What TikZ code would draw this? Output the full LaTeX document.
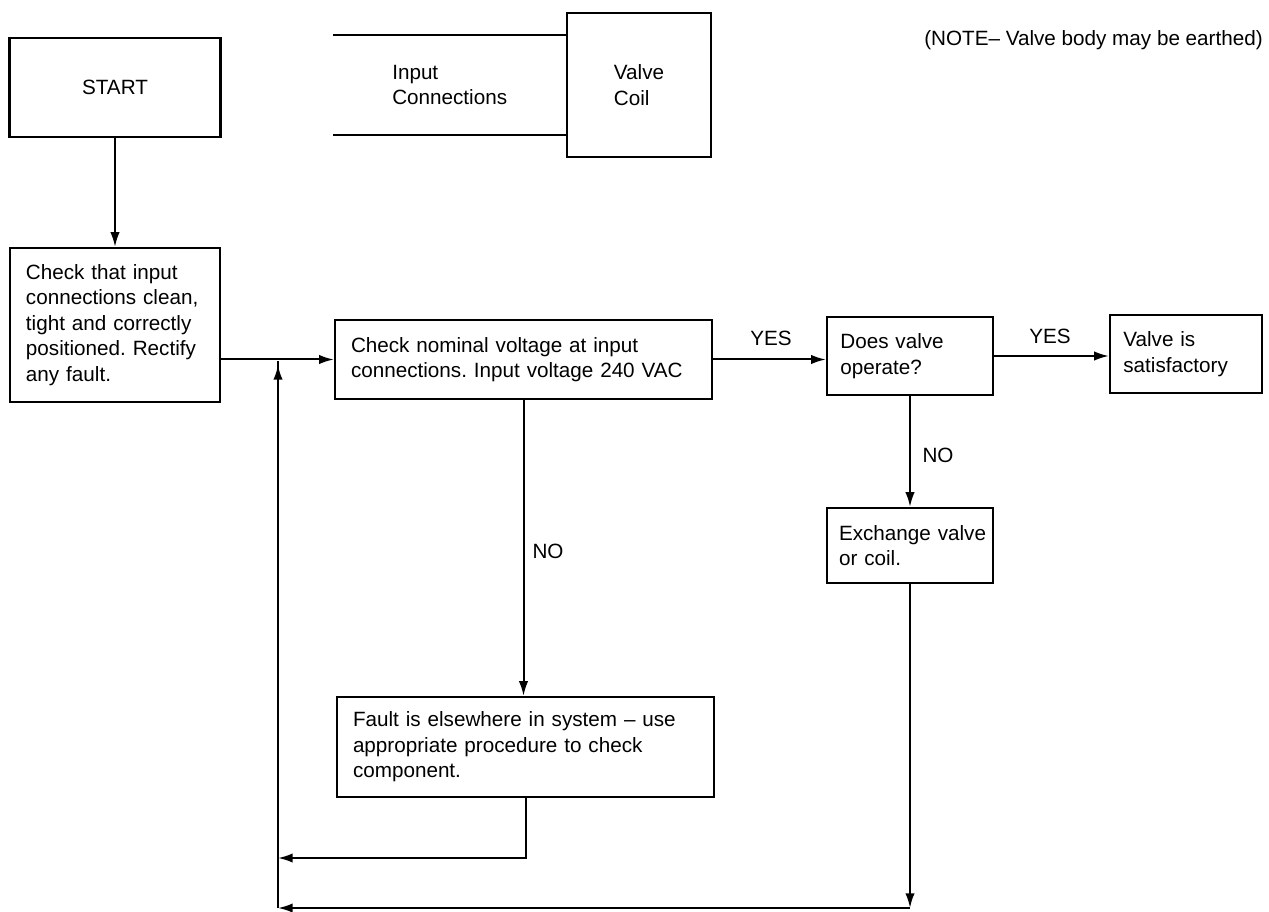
\documentclass[tikz,border=0pt]{standalone}
\usepackage{fontspec}
\setmainfont{Liberation Sans}
\usetikzlibrary{arrows.meta}
\tikzset{
  box/.style={draw,line width=1.7pt,align=left,inner xsep=12pt,inner ysep=0pt},
  wire/.style={line width=1.5pt},
  arr/.style={wire,-{Latex[length=11pt,width=7pt]}},
  lbl/.style={inner sep=0pt}
}
\frenchspacing
\begin{document}
\begin{tikzpicture}[x=0.75pt,y=-0.75pt,font=\fontsize{15.5}{19.1}\selectfont]
\useasboundingbox (0,0) rectangle (1269,912);
% top row
\node[box,align=center,minimum width=158.25pt,minimum height=74.25pt] (start) at (115,87.5) {START};
\node[box,align=left,minimum width=108pt,minimum height=108pt] (coil) at (639,85) {Valve\\Coil};
\node[lbl,anchor=west,align=left] (inlbl) at (392,85) {Input\\Connections};
\node[lbl,anchor=east] (note) at (1263,40) {(NOTE-- Valve body may be earthed)};
\coordinate (ina) at (333,35);
\coordinate (inb) at (333,135);
% flow boxes
\node[box,text width=133.5pt,minimum height=115.5pt] (conn) at (115,325)
  {Check that input\\connections clean,\\tight and correctly\\positioned. Rectify\\any fault.};
\node[box,text width=258.75pt,minimum height=59.25pt] (volt) at (523.5,359.5)
  {Check nominal voltage at input\\connections. Input voltage 240 VAC};
\node[box,inner xsep=10pt,text width=104.5pt,minimum height=58.5pt] (oper) at (910,356)
  {Does valve\\operate?};
\node[box,inner xsep=10pt,text width=94pt,minimum height=58.5pt] (ok) at (1186,354)
  {Valve is\\satisfactory};
\node[box,inner xsep=9pt,text width=106.5pt,minimum height=56.25pt] (exch) at (910,545.5)
  {\mbox{Exchange valve}\\or coil.};
\node[box,text width=258.75pt,minimum height=75pt] (fault) at (525.5,747)
  {Fault is elsewhere in system -- use\\appropriate procedure to check\\component.};
% labels
\node[lbl] (yes1) at (771,338) {YES};
\node[lbl] (yes2) at (1050,336) {YES};
\node[lbl] (no1) at (548,551) {NO};
\node[lbl] (no2) at (938,455) {NO};
% return path
\coordinate (jn) at (278,361);
\coordinate (fl) at (278,858);
\coordinate (bl) at (278,908);
\draw[wire] (ina) -- (ina -| coil.west);
\draw[wire] (inb) -- (inb -| coil.west);
\draw[arr] (start) -- (conn);
\draw[arr] (conn.east |- volt.west) -- (volt.west);
\draw[arr] (volt.east) -- (volt.east -| oper.west);
\draw[arr] (oper.east) -- (oper.east -| ok.west);
\draw[arr] (oper) -- (exch);
\draw[arr] (volt.south) -- (volt.south |- fault.north);
\draw[arr] (fault.south) |- (fl);
\draw[arr] (exch.south) -- (exch.south |- bl);
\draw[arr] (exch.south |- bl) -- (bl);
\draw[wire] (bl) -- (jn);
\draw[arr] (bl) -- ([yshift=-3pt]jn);
\end{tikzpicture}
\end{document}
